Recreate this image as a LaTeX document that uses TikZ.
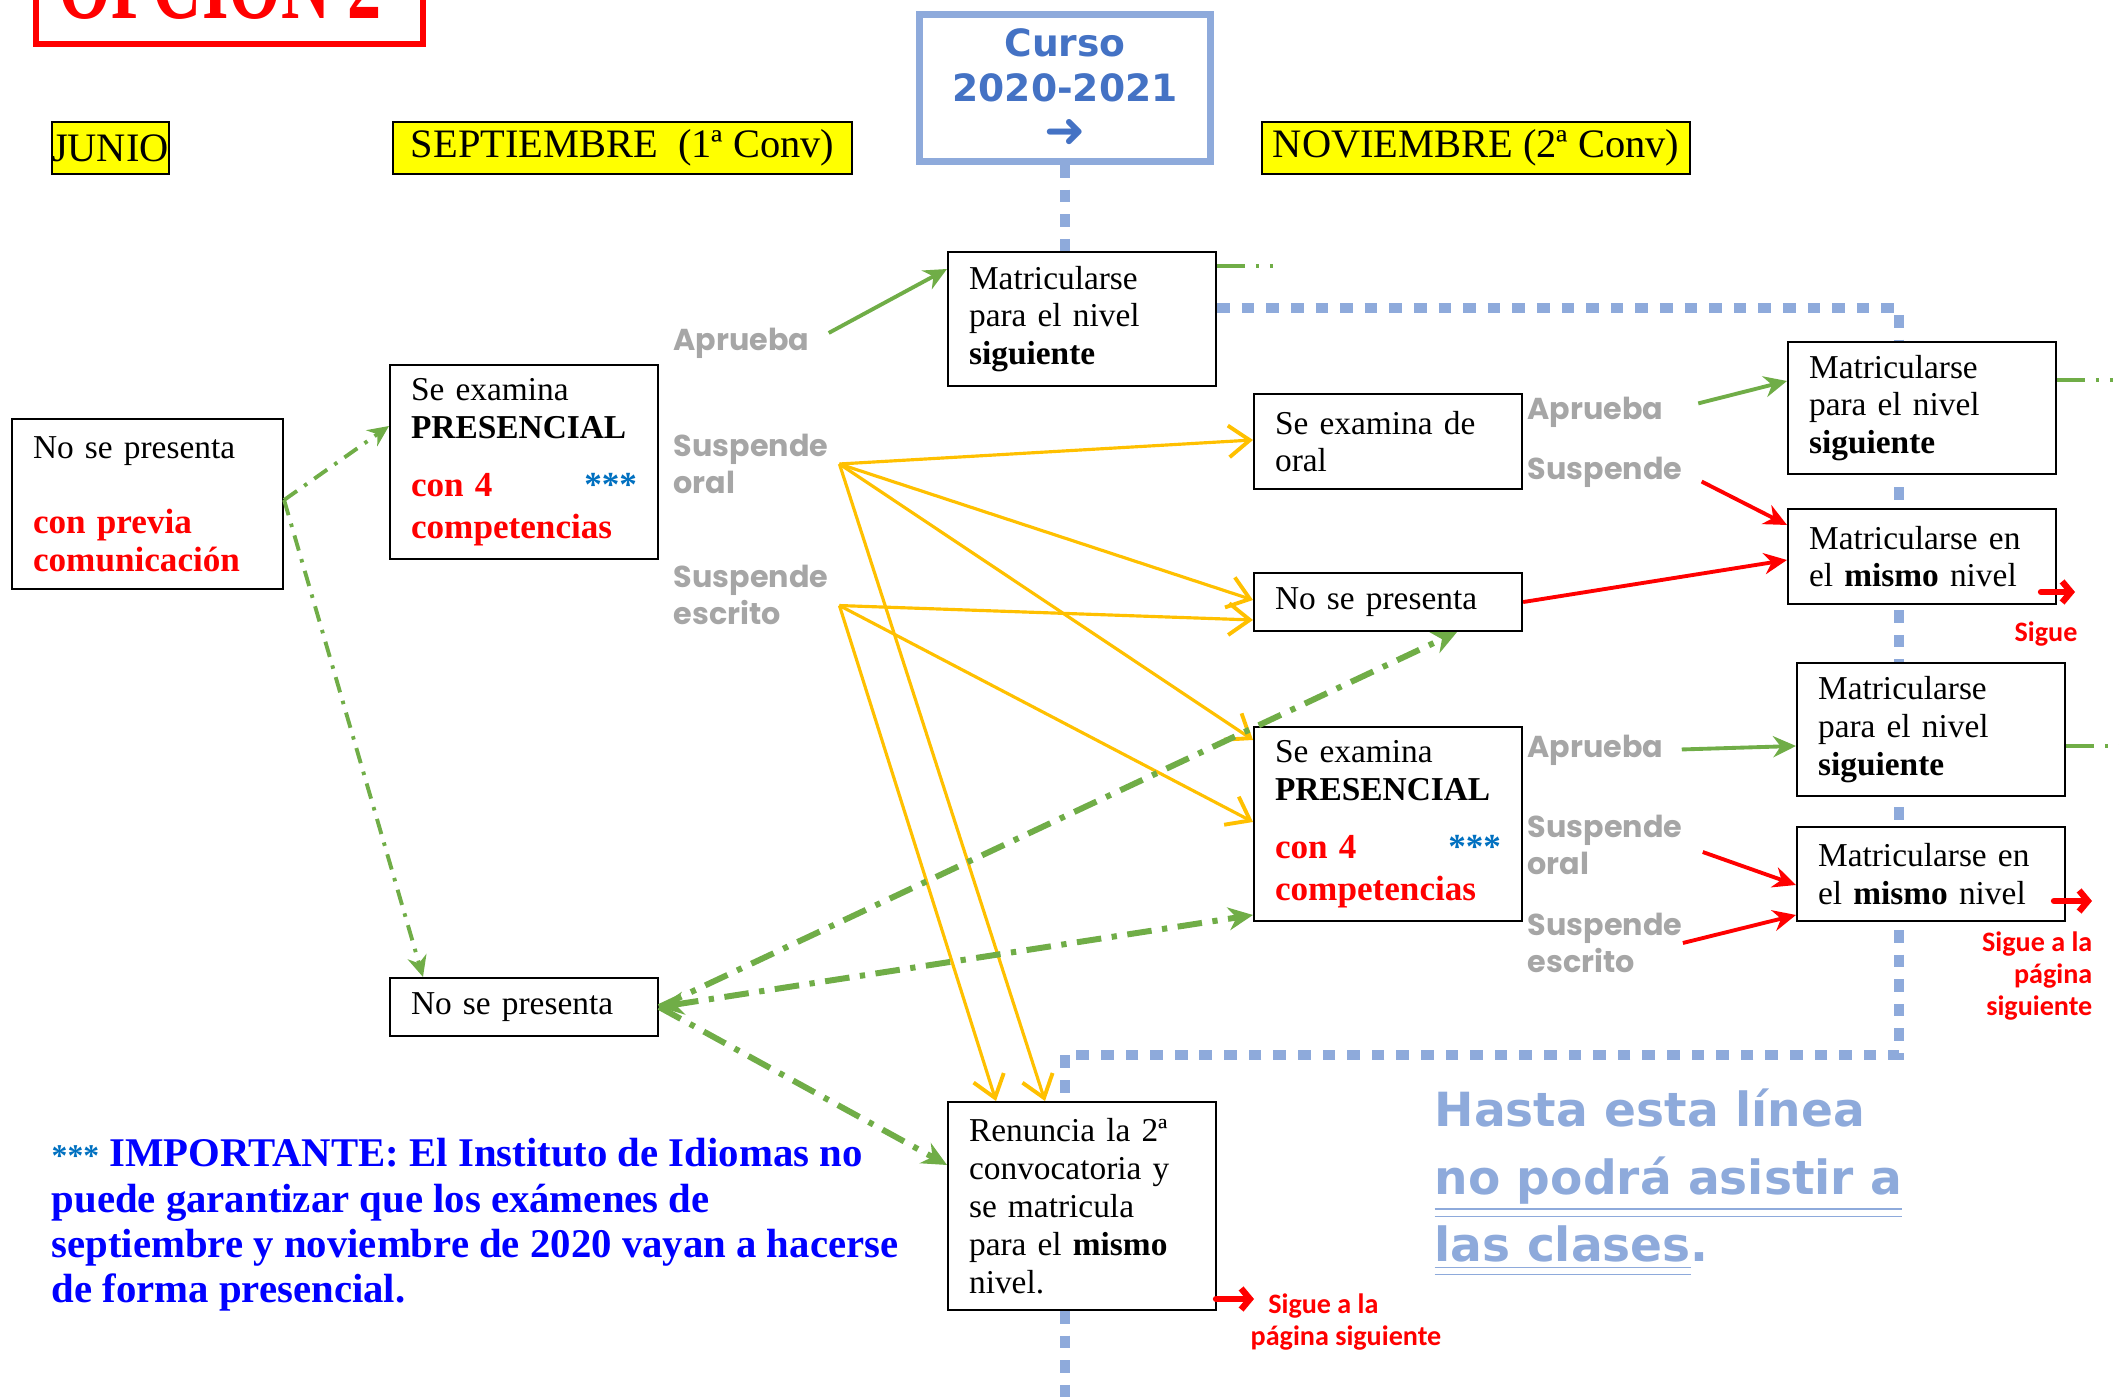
\documentclass[tikz,border=0pt]{standalone}
\usepackage{fontspec}
\usepackage{graphicx}
\usetikzlibrary{arrows.meta,backgrounds}
\setmainfont{Liberation Serif}
\newfontfamily\grayfont{Poppins}
\newfontfamily\verdfont{DejaVu Sans}
\newfontfamily\calfont{Carlito}
\definecolor{grnline}{HTML}{70AD47}
\definecolor{ylwline}{HTML}{FFC000}
\definecolor{dotblue}{HTML}{8EAADB}
\definecolor{cursoblue}{HTML}{4472C4}
\definecolor{graytxt}{HTML}{A6A6A6}
\definecolor{stars}{HTML}{0070C0}
\definecolor{hdryellow}{HTML}{FFFF00}
\definecolor{notablue}{HTML}{0000FF}
\newcommand{\dblund}[1]{\underline{\underline{#1}}}

\begin{document}
\begin{tikzpicture}[x=0.1mm,y=-0.1mm]

    \tikzset{
      box/.style={
        draw,
        fill=white,
        line width=0.6pt,
        anchor=north west,
        inner xsep=2.1mm,
        inner ysep=0pt,
        text width=22.6mm,
        align=left,
        font=\fontsize{9.5}{10.76}\selectfont,
      },
      hdr/.style={draw, fill=hdryellow, line width=0.6pt, anchor=north west, inner sep=0pt,
        minimum height=5.2mm, font=\fontsize{11.5}{12}\selectfont},
      lbl/.style={anchor=west, inner sep=0pt, align=left, text=graytxt,
        font=\grayfont\bfseries\fontsize{8.6}{10.4}\selectfont},
      sigue/.style={inner sep=0pt, text=red, font=\calfont\bfseries\fontsize{8}{9.2}\selectfont},
      yarr/.style={ylwline, line width=0.9pt, -{Straight Barb[length=6pt,width=9pt,line width=1.1pt]}},
      garr/.style={grnline, line width=1.1pt, -{Stealth[length=6.5pt,width=6pt]}},
      rarr/.style={red, line width=1.1pt, -{Stealth[length=6.5pt,width=6pt]}},
      gdash/.style={grnline, line width=1.7pt, dash pattern=on 7pt off 3pt on 1.5pt off 3pt,
        -{Stealth[length=7pt,width=6.5pt]}},
      gthin/.style={grnline, line width=1.1pt, dash pattern=on 4.5pt off 2.5pt on 1pt off 2.5pt,
        -{Stealth[length=6pt,width=5.5pt]}},
      gstub/.style={grnline, line width=1.1pt, dash pattern=on 8pt off 3pt on 1pt off 3pt on 1pt off 30pt},
      blueline/.style={dotblue, line width=2.6pt, dash pattern=on 3.6pt off 3.4pt},
      sarr/.style={red, line width=1.8pt, line cap=round, -{Straight Barb[length=2.5pt,width=6pt]}},
    }
    \useasboundingbox (0,0) rectangle (2119,1397);
    \clip (0,0) rectangle (2119,1397);

	% titles
	\node[draw=red, line width=1.7pt, minimum width=38.7mm, minimum height=10.7mm, anchor=south west, inner sep=0pt] (opcbox) at (33,47) {};
	\node[text=red, inner sep=0pt, anchor=base] (opcion) at (220,19) {\scalebox{0.88}[1.3]{\fontsize{22}{22}\selectfont\bfseries OPCIÓN 2}};
	\node[hdr, minimum width=11.4mm] (junio) at (51,121) {JUNIO};
	\node[hdr, minimum width=45.9mm] (sept) at (392,121) {SEPTIEMBRE~~(1ª Conv)};
	\node[hdr, minimum width=42.8mm] (nov) at (1261,121) {NOVIEMBRE (2ª Conv)};
	\node[draw=dotblue, line width=2pt, minimum width=29.1mm, minimum height=14.7mm, inner sep=0pt, align=center,
	  text=cursoblue, font=\verdfont\bfseries\fontsize{10.7}{13}\selectfont] (curso) at (1065,88) {Curso\\2020-2021\\{\fontsize{14}{13}\selectfont ➜}};

	% boxes
	\node[box, minimum height=17mm, text width=22.9mm] (junNsp) at (11,418) {No se presenta\\[10.76pt]
	  {\color{red}\bfseries\fontsize{10}{10.76}\selectfont con previa}\\
	  {\color{red}\bfseries\fontsize{10}{10.76}\selectfont comunicación}};
	\node[box, minimum height=19.4mm] (sepExam) at (389,364) {Se examina\\\textbf{PRESENCIAL}\\[5.7pt]
	  {\color{red}\bfseries\fontsize{10}{10.76}\selectfont\makebox[\hsize][l]{con 4\hfill{\color{stars}***}}}\\[1.1pt]
	  {\color{red}\bfseries\fontsize{10}{10.76}\selectfont competencias}};
	\node[box, minimum height=13.4mm] (sepMat) at (947,251) {Matricularse\\para el nivel\\\textbf{siguiente}};
	\node[box, minimum height=5.8mm] (sepNsp) at (389,977) {No se presenta};
	\node[box, minimum height=20.8mm] (renuncia) at (947,1101) {Renuncia la 2ª\\convocatoria y\\se matricula\\para el \textbf{mismo}\\nivel.};
	\node[box, minimum height=9.5mm] (novOral) at (1253,393) {Se examina de\\oral};
	\node[box, minimum height=5.8mm] (novNsp) at (1253,572) {No se presenta};
	\node[box, minimum height=19.4mm] (novExam) at (1253,726) {Se examina\\\textbf{PRESENCIAL}\\[5.7pt]
	  {\color{red}\bfseries\fontsize{10}{10.76}\selectfont\makebox[\hsize][l]{con 4\hfill{\color{stars}***}}}\\[1.1pt]
	  {\color{red}\bfseries\fontsize{10}{10.76}\selectfont competencias}};
	\node[box, minimum height=13.2mm] (matSig1) at (1787,341) {Matricularse\\para el nivel\\\textbf{siguiente}};
	\node[box, minimum height=9.5mm] (matMis1) at (1787,508) {Matricularse en\\el \textbf{mismo} nivel};
	\node[box, minimum height=13.3mm] (matSig2) at (1796,662) {Matricularse\\para el nivel\\\textbf{siguiente}};
	\node[box, minimum height=9.4mm] (matMis2) at (1796,826) {Matricularse en\\el \textbf{mismo} nivel};

	% labels
	\node[lbl] (lblAprS) at (673,343) {Aprueba};
	\node[lbl] (lblSusO) at (673,464) {Suspende\\oral};
	\node[lbl] (lblSusE) at (673,595) {Suspende\\escrito};
	\node[lbl] (lblAprB) at (1527,412) {Aprueba};
	\node[lbl] (lblSusB) at (1527,472) {Suspende};
	\node[lbl] (lblAprC) at (1527,750) {Aprueba};
	\node[lbl] (lblSusOC) at (1527,845) {Suspende\\oral};
	\node[lbl] (lblSusEC) at (1527,943) {Suspende\\escrito};
	\node[sigue] (sigA) at (2046,634) {Sigue};
	\node[sigue, align=right, anchor=east] (sigB) at (2093,976) {Sigue a la\\página\\siguiente};
	\node[sigue, align=left, anchor=west] (sigC) at (1250,1322) {\hspace*{5pt}Sigue a la\\página siguiente};
	\node[anchor=west, inner sep=0pt, align=left, text=notablue, font=\bfseries\fontsize{11.6}{12.9}\selectfont] (nota) at (51,1225)
	  {{\color{stars}\fontsize{9}{9}\selectfont ***} IMPORTANTE: El Instituto de Idiomas no\\puede garantizar que los exámenes de\\septiembre y noviembre de 2020 vayan a hacerse\\de forma presencial.};
	\node[anchor=west, inner sep=0pt, align=left, text=dotblue, font=\verdfont\bfseries\fontsize{13.4}{19.2}\selectfont] (hasta) at (1434,1183)
	  {Hasta esta línea\\\dblund{no podrá asistir a}\\\dblund{las clases}.};

	\coordinate (stubA) at (1277,266);
	\coordinate (stubB) at (2119,380);
	\coordinate (stubC) at (2119,746);
	\coordinate (sgA1) at (2041,592);
	\coordinate (sgA2) at (2075,592);
	\coordinate (sgB1) at (2054,901);
	\coordinate (sgB2) at (2092,901);
	\coordinate (sgC1) at (1216,1299);
	\coordinate (sgC2) at (1254,1299);
	\coordinate (bottom) at (1065,1397);

	% line of the course
	\begin{scope}[on background layer]
	\draw[blueline] (curso.south) -- (curso.south |- sepMat.north);
	\draw[blueline] (sepMat.east |- 0,308) -- (1899,308) -- (1899,1055) -- (1065,1055) -- (renuncia.north -| curso.south);
	\draw[blueline] (renuncia.south -| curso.south) -- (bottom);
	\end{scope}

	\draw[yarr] ([xshift=3pt]lblSusO.east) -- (novOral.west |- 0,440);
	\draw[yarr] ([xshift=3pt]lblSusO.east) -- (novNsp.west |- 0,600);
	\draw[yarr] ([xshift=3pt]lblSusO.east) -- (novExam.west |- 0,740);
	\draw[yarr] ([xshift=3pt]lblSusO.east) -- (renuncia.north -| 1045,0);
	\draw[yarr] ([shift={(3pt,-3pt)}]lblSusE.east) -- (novNsp.west |- 0,620);
	\draw[yarr] ([shift={(3pt,-3pt)}]lblSusE.east) -- (novExam.west |- 0,822);
	\draw[yarr] ([shift={(3pt,-3pt)}]lblSusE.east) -- (renuncia.north -| 996,0);

	\draw[garr, shorten <=6pt] (lblAprS.east) -- (sepMat.west |- 0,269);
	\draw[garr, shorten <=10pt] (lblAprB.east) -- (matSig1.west |- 0,381);
	\draw[garr, shorten <=5pt] (lblAprC.east) -- (matSig2.west |- 0,746);
	\draw[rarr, shorten <=6pt] (lblSusB.east) -- (matMis1.west |- 0,525);
	\draw[rarr] (novNsp.east) -- (matMis1.west |- 0,560);
	\draw[rarr, shorten <=6pt] (lblSusOC.east) -- (matMis2.west |- 0,885);
	\draw[rarr] (lblSusEC.east) -- (matMis2.west |- 0,915);

	\draw[gthin] (junNsp.east |- 0,500) -- (sepExam.west |- 0,426);
	\draw[gthin] (junNsp.east |- 0,500) -- (sepNsp.north -| 423,0);
	\draw[gdash] (sepNsp.east) -- (novNsp.south -| 1457,0);
	\draw[gdash, {Stealth[length=7pt,width=6.5pt]}-{Stealth[length=7pt,width=6.5pt]}] (sepNsp.east) -- (novExam.west |- 0,915);
	\draw[gdash] (sepNsp.east) -- (renuncia.west |- 0,1165);

	\draw[gstub] (sepMat.east |- stubA) -- (stubA);
	\draw[gstub] (matSig1.east |- stubB) -- (stubB);
	\draw[gstub] (matSig2.east |- stubC) -- (stubC);

	\draw[sarr] (sgA1) -- (sgA2);
	\draw[sarr] (sgB1) -- (sgB2);
	\draw[sarr] (sgC1) -- (sgC2);

\end{tikzpicture}
\end{document}
